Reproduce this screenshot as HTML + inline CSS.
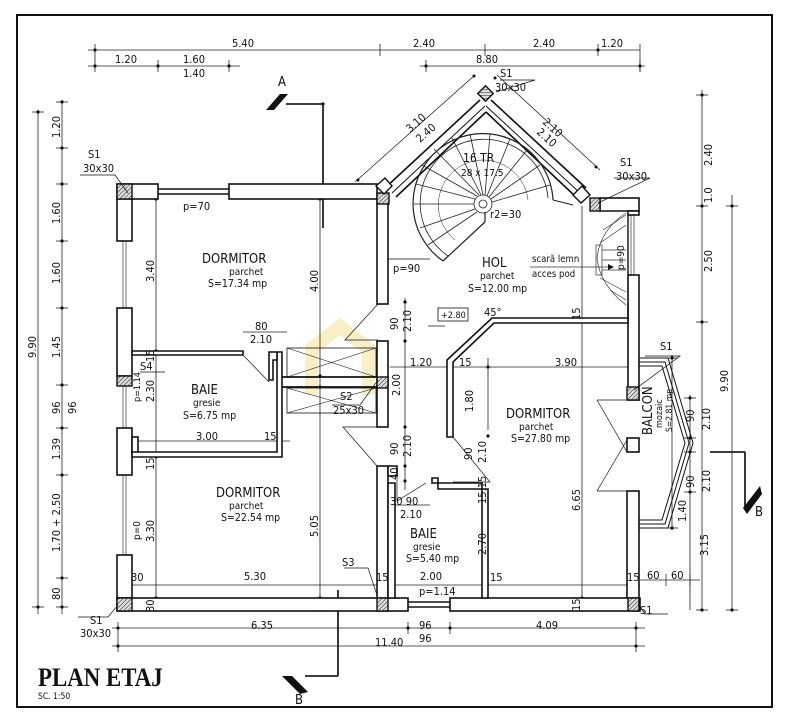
<!DOCTYPE html>
<html><head><meta charset="utf-8"><style>
html,body{margin:0;padding:0;background:#fff;}
svg{display:block;}
text{font-family:"DejaVu Sans Condensed","Liberation Sans",sans-serif;fill:#111;}
text.title{font-family:"Liberation Serif",serif;font-weight:bold;}
</style></head><body>
<svg width="789" height="720" viewBox="0 0 789 720" xmlns="http://www.w3.org/2000/svg">
<defs>
<pattern id="h" width="3" height="3" patternUnits="userSpaceOnUse" patternTransform="rotate(45)">
<rect width="3" height="3" fill="#ddd"/><line x1="0" y1="0" x2="0" y2="3" stroke="#222" stroke-width="1"/></pattern>
</defs>
<rect x="0" y="0" width="789" height="720" fill="#fff"/>
<rect x="17" y="15" width="755" height="692" fill="none" stroke="#111" stroke-width="2"/>

<path d="M305,395 V345 L340,318 L375,345 V395 H362 V352 L340,335 L318,352 V395 Z" fill="#f7e9b0" opacity="0.75"/>

<g stroke="#222" stroke-width="0.8" fill="none">
<line x1="88" y1="50" x2="640" y2="50"/>
<line x1="88" y1="66" x2="240" y2="66"/>
<line x1="420" y1="66" x2="645" y2="66"/>
<line x1="95" y1="44" x2="95" y2="72"/><line x1="158" y1="60" x2="158" y2="72"/><line x1="229" y1="60" x2="229" y2="72"/>
<line x1="380" y1="44" x2="380" y2="56"/><line x1="485" y1="44" x2="485" y2="56"/><line x1="598" y1="44" x2="598" y2="56"/><line x1="640" y1="44" x2="640" y2="72"/>
<line x1="426" y1="60" x2="426" y2="72"/><line x1="640" y1="60" x2="640" y2="72"/>
<line x1="38" y1="110" x2="38" y2="614"/>
<line x1="62" y1="100" x2="62" y2="614"/>
<g stroke-width="0.8">
<line x1="32" y1="112" x2="44" y2="112"/><line x1="32" y1="607" x2="44" y2="607"/>
<line x1="56" y1="102" x2="68" y2="102"/><line x1="56" y1="148" x2="68" y2="148"/><line x1="56" y1="184" x2="68" y2="184"/><line x1="56" y1="241" x2="68" y2="241"/><line x1="56" y1="308" x2="68" y2="308"/><line x1="56" y1="385" x2="68" y2="385"/><line x1="56" y1="428" x2="68" y2="428"/><line x1="56" y1="475" x2="68" y2="475"/><line x1="56" y1="578" x2="68" y2="578"/><line x1="56" y1="607" x2="68" y2="607"/>
</g>
<line x1="702" y1="90" x2="702" y2="610"/>
<line x1="732" y1="195" x2="732" y2="610"/>
<line x1="696" y1="95" x2="708" y2="95"/><line x1="696" y1="206" x2="708" y2="206"/><line x1="696" y1="322" x2="708" y2="322"/><line x1="696" y1="610" x2="708" y2="610"/>
<line x1="726" y1="206" x2="738" y2="206"/><line x1="726" y1="610" x2="738" y2="610"/>
<line x1="672" y1="355" x2="672" y2="530"/><line x1="666" y1="358" x2="678" y2="358"/><line x1="666" y1="528" x2="678" y2="528"/>
<line x1="690" y1="395" x2="690" y2="610"/><line x1="684" y1="398" x2="696" y2="398"/><line x1="684" y1="438" x2="696" y2="438"/><line x1="684" y1="452" x2="696" y2="452"/><line x1="684" y1="492" x2="696" y2="492"/>
<line x1="640" y1="580" x2="700" y2="580"/><line x1="666" y1="574" x2="666" y2="586"/><line x1="690" y1="574" x2="690" y2="586"/>
<line x1="112" y1="628" x2="645" y2="628"/>
<line x1="112" y1="646" x2="645" y2="646"/>
<line x1="118" y1="622" x2="118" y2="652"/><line x1="408" y1="622" x2="408" y2="634"/><line x1="450" y1="622" x2="450" y2="634"/><line x1="636" y1="622" x2="636" y2="652"/>
<line x1="156" y1="198" x2="156" y2="612"/>
<line x1="320" y1="198" x2="320" y2="612"/>
<line x1="582" y1="206" x2="582" y2="612"/>
<line x1="405" y1="298" x2="405" y2="490"/>
<line x1="488" y1="358" x2="488" y2="430"/>
<line x1="120" y1="585" x2="640" y2="585"/>
<line x1="390" y1="367" x2="628" y2="367"/>
<line x1="135" y1="441" x2="290" y2="441"/>
<line x1="243" y1="332" x2="287" y2="332"/>
<line x1="385" y1="505" x2="430" y2="505"/>
<line x1="286" y1="104" x2="323" y2="104" stroke-width="1.8"/>
<line x1="323" y1="104" x2="323" y2="228" stroke-width="1.8"/>
<line x1="710" y1="452" x2="745" y2="452" stroke-width="1.8"/>
<line x1="745" y1="452" x2="745" y2="508" stroke-width="1.8"/>
<line x1="338" y1="590" x2="338" y2="676" stroke-width="1.8"/>
<line x1="338" y1="676" x2="305" y2="676" stroke-width="1.8"/>
</g>
<polygon points="266,110 280,94 288,94 274,110" fill="#111"/>
<polygon points="743,508 760,486 762,494 747,514" fill="#111"/>
<polygon points="282,676 292,676 308,692 300,694" fill="#111"/>

<g fill="#111">
<circle cx="95" cy="50" r="1.6"/><circle cx="95" cy="66" r="1.6"/><circle cx="158" cy="66" r="1.6"/><circle cx="229" cy="66" r="1.6"/><circle cx="640" cy="66" r="1.6"/><circle cx="598" cy="50" r="1.6"/><circle cx="426" cy="66" r="1.6"/>
<circle cx="38" cy="112" r="1.6"/><circle cx="38" cy="607" r="1.6"/>
<circle cx="62" cy="102" r="1.6"/><circle cx="62" cy="148" r="1.6"/><circle cx="62" cy="184" r="1.6"/><circle cx="62" cy="241" r="1.6"/><circle cx="62" cy="308" r="1.6"/><circle cx="62" cy="385" r="1.6"/><circle cx="62" cy="428" r="1.6"/><circle cx="62" cy="475" r="1.6"/><circle cx="62" cy="578" r="1.6"/><circle cx="62" cy="607" r="1.6"/>
<circle cx="702" cy="95" r="1.6"/><circle cx="702" cy="206" r="1.6"/><circle cx="702" cy="322" r="1.6"/><circle cx="702" cy="610" r="1.6"/><circle cx="732" cy="206" r="1.6"/><circle cx="732" cy="610" r="1.6"/>
<circle cx="672" cy="358" r="1.6"/><circle cx="672" cy="528" r="1.6"/><circle cx="690" cy="398" r="1.6"/><circle cx="690" cy="438" r="1.6"/><circle cx="690" cy="452" r="1.6"/><circle cx="690" cy="492" r="1.6"/>
<circle cx="118" cy="628" r="1.6"/><circle cx="118" cy="646" r="1.6"/><circle cx="408" cy="628" r="1.6"/><circle cx="450" cy="628" r="1.6"/><circle cx="636" cy="628" r="1.6"/><circle cx="636" cy="646" r="1.6"/>
<circle cx="156" cy="199" r="1.6"/><circle cx="156" cy="351" r="1.6"/><circle cx="156" cy="457" r="1.6"/><circle cx="156" cy="598" r="1.6"/>
<circle cx="320" cy="199" r="1.6"/><circle cx="320" cy="376" r="1.6"/><circle cx="320" cy="387" r="1.6"/><circle cx="320" cy="598" r="1.6"/>
<circle cx="405" cy="302" r="1.6"/><circle cx="405" cy="341" r="1.6"/><circle cx="405" cy="427" r="1.6"/><circle cx="405" cy="466" r="1.6"/><circle cx="405" cy="481" r="1.6"/>
<circle cx="582" cy="320" r="1.6"/><circle cx="582" cy="598" r="1.6"/><circle cx="488" cy="367" r="1.6"/><circle cx="488" cy="436" r="1.6"/>
<circle cx="323" cy="104" r="1.6"/>
</g>

<g stroke="#111" stroke-width="1.6" fill="#fff">
<rect x="117" y="184" width="41" height="15"/>
<rect x="229" y="184" width="148" height="15"/>
<line x1="158" y1="189" x2="229" y2="189"/><line x1="158" y1="194" x2="229" y2="194"/>
<rect x="117" y="199" width="15" height="42"/>
<rect x="117" y="308" width="15" height="68"/>
<rect x="117" y="428" width="15" height="47"/>
<rect x="117" y="555" width="15" height="43"/>
<rect x="132" y="437" width="6" height="16"/>
<rect x="117" y="598" width="291" height="13"/>
<rect x="450" y="598" width="190" height="13"/>
<line x1="408" y1="602" x2="450" y2="602"/><line x1="408" y1="607" x2="450" y2="607"/>
<rect x="377" y="199" width="11" height="105"/>
<rect x="377" y="341" width="11" height="86"/>
<rect x="377" y="466" width="11" height="132"/>
<rect x="600" y="198" width="39" height="13"/>
<rect x="628" y="211" width="11" height="4"/>
<rect x="628" y="275" width="11" height="125"/>
<rect x="627" y="491" width="12" height="107"/>
<rect x="627" y="438" width="12" height="14"/>
<polygon points="132,351 243,351 243,355 132,355" />
<polygon points="277,352 282,352 282,457 132,457 132,452 277,452"/>
<polygon points="269,352 277,352 277,360 273,360 273,380 269,380"/>
<polygon points="492,318 628,318 628,323 494,323 453,362 453,437 447,437 447,360"/>
<polygon points="432,483 482,483 482,598 488,598 488,489 438,489 438,478 432,478"/>
<polygon points="388,483 395,483 395,598 388,598"/>
<polygon points="388,466 397,466 397,476 388,476"/>
</g>
<line x1="126" y1="241" x2="126" y2="308" stroke="#111" stroke-width="0.6"/><line x1="123" y1="241" x2="123" y2="308" stroke="#111" stroke-width="0.6"/>
<line x1="126" y1="386" x2="126" y2="428" stroke="#111" stroke-width="0.6"/><line x1="123" y1="386" x2="123" y2="428" stroke="#111" stroke-width="0.6"/>
<line x1="126" y1="475" x2="126" y2="555" stroke="#111" stroke-width="0.6"/><line x1="123" y1="475" x2="123" y2="555" stroke="#111" stroke-width="0.6"/>
<line x1="634" y1="215" x2="634" y2="275" stroke="#111" stroke-width="0.6"/><line x1="631" y1="215" x2="631" y2="275" stroke="#111" stroke-width="0.6"/>
<line x1="628" y1="215" x2="628" y2="275" stroke="#111" stroke-width="1.4"/>

<g stroke="#111" fill="none">
<rect x="287" y="348" width="89" height="29" stroke-width="0.8"/>
<rect x="287" y="388" width="89" height="25" stroke-width="0.8"/>
<line x1="282" y1="377" x2="377" y2="377" stroke-width="1.8"/>
<line x1="282" y1="387" x2="377" y2="387" stroke-width="1.8"/>
<line x1="287" y1="348" x2="376" y2="377" stroke-width="0.6"/><line x1="287" y1="377" x2="376" y2="348" stroke-width="0.6"/>
<line x1="287" y1="388" x2="376" y2="413" stroke-width="0.6"/><line x1="287" y1="413" x2="376" y2="388" stroke-width="0.6"/>
</g>

<g fill="url(#h)" stroke="#111" stroke-width="1.4">
<rect x="117" y="184" width="15" height="15"/>
<rect x="117" y="376" width="15" height="10"/>
<rect x="117" y="598" width="15" height="13"/>
<rect x="377" y="598" width="11" height="13"/>
<rect x="628" y="598" width="11" height="13"/>
<rect x="377" y="193" width="12" height="11"/>
<rect x="377" y="377" width="11" height="11"/>
<rect x="590" y="198" width="10" height="13"/>
<rect x="627" y="387" width="12" height="13"/>
<rect x="480" y="88" width="11" height="11" transform="rotate(45 485.5 93.5)"/>
</g>

<g stroke="#111" fill="none">
<line x1="385" y1="188" x2="480" y2="100" stroke-width="1.6"/>
<line x1="392" y1="193" x2="485" y2="106" stroke-width="1"/>
<line x1="396" y1="197" x2="486" y2="112" stroke-width="1.6"/>
<line x1="491" y1="100" x2="586" y2="188" stroke-width="1.6"/>
<line x1="486" y1="106" x2="580" y2="193" stroke-width="1"/>
<line x1="486" y1="112" x2="576" y2="197" stroke-width="1.6"/>
<polygon points="376,186 385,178 392,186 384,194" fill="#fff" stroke-width="1.4"/>
<polygon points="573,195 582,186 590,195 581,203" fill="#fff" stroke-width="1.4"/>
<line x1="355" y1="182" x2="475" y2="75" stroke-width="0.7"/>
<line x1="497" y1="75" x2="600" y2="170" stroke-width="0.7"/>
</g>
<g fill="#111"><circle cx="358" cy="180" r="1.5"/><circle cx="474" cy="76" r="1.5"/><circle cx="596" cy="167" r="1.5"/><circle cx="495" cy="78" r="1.5"/></g>

<g stroke="#222" fill="none" stroke-width="0.8">
<path d="M443,261 A70,70 0 1 1 553,200" stroke-width="1.2"/>
<path d="M448,256 A64,64 0 1 1 548,198"/>
<path d="M455,240 A45,45 0 1 1 528,200" stroke-width="0.5"/>
<line x1="443" y1="261" x2="485" y2="222" stroke-width="1.2"/>
<line x1="485" y1="222" x2="485" y2="212" stroke-width="1.2"/>
<line x1="553" y1="200" x2="573" y2="205" stroke-width="1"/>
<circle cx="483" cy="204" r="9"/><circle cx="483" cy="204" r="4"/>
<line x1="474" y1="204" x2="414" y2="204"/>
<line x1="475" y1="209" x2="420" y2="228"/>
<line x1="477" y1="212" x2="428" y2="245"/>
<line x1="475" y1="199" x2="416" y2="184"/>
<line x1="477" y1="196" x2="422" y2="165"/>
<line x1="479" y1="195" x2="434" y2="149"/>
<line x1="481" y1="195" x2="452" y2="138"/>
<line x1="483" y1="195" x2="470" y2="134"/>
<line x1="485" y1="195" x2="490" y2="134"/>
<line x1="487" y1="196" x2="510" y2="139"/>
<line x1="489" y1="197" x2="527" y2="150"/>
<line x1="491" y1="199" x2="540" y2="165"/>
<line x1="492" y1="202" x2="550" y2="185"/>
</g>

<g stroke="#333" fill="none" stroke-width="0.7">
<line x1="600" y1="211" x2="628" y2="211"/>
<path d="M626,213 Q600,230 597,258 Q600,285 626,305"/>
<rect x="596" y="245" width="6" height="30"/>
<line x1="602" y1="250" x2="626" y2="250"/><line x1="602" y1="260" x2="626" y2="260"/><line x1="602" y1="270" x2="626" y2="270"/>
<line x1="600" y1="243" x2="626" y2="225"/><line x1="603" y1="230" x2="626" y2="215"/>
<line x1="600" y1="278" x2="626" y2="292"/><line x1="610" y1="290" x2="626" y2="300"/>
<line x1="530" y1="267" x2="608" y2="267" stroke-width="0.8"/>
</g>
<polygon points="608,264 614,267 608,270" fill="#111"/>
<line x1="628" y1="304" x2="628" y2="318" stroke="#111" stroke-width="1.4"/>

<g stroke="#111" fill="none" stroke-width="1">
<polyline points="639,358 668,358 693,443 668,528 639,528"/>
<polyline points="639,362 665,362 689,443 665,524 639,524"/>
<polyline points="639,366 662,366 685,443 662,520 639,520"/>
<line x1="597" y1="400" x2="627" y2="452" stroke-width="0.7"/>
<line x1="597" y1="400" x2="627" y2="400" stroke-width="0.7"/>
<line x1="597" y1="491" x2="627" y2="440" stroke-width="0.7"/>
<line x1="597" y1="491" x2="627" y2="491" stroke-width="0.7"/>
</g>

<g stroke="#111" fill="none" stroke-width="0.7">
<line x1="243" y1="355" x2="269" y2="382"/>
<polyline points="378,304 345,340 378,340"/>
<polyline points="377,427 343,427 377,466"/>
<polyline points="453,437 490,482 453,482"/>
<polyline points="397,476 397,501 426,483"/>
<line x1="388" y1="259" x2="430" y2="259"/>
<polyline points="80,175 115,175 128,193" />
<polyline points="500,80 535,80 496,92"/>
<polyline points="614,178 650,178 598,203"/>
<polyline points="645,356 680,356 634,390"/>
<polyline points="140,372 165,372"/>
<polyline points="344,568 368,568 378,598"/>
<polyline points="78,617 108,617 118,605"/>
<polyline points="638,604 645,614 668,614"/>
<polyline points="332,405 360,405 378,380"/>
<line x1="428" y1="326" x2="445" y2="326"/>
</g>
<rect x="438" y="308" width="30" height="13" fill="#fff" stroke="#111" stroke-width="0.8"/>

<g font-size="11">
<text x="232" y="47">5.40</text><text x="413" y="47">2.40</text><text x="533" y="47">2.40</text><text x="601" y="47">1.20</text>
<text x="115" y="63">1.20</text><text x="183" y="63">1.60</text><text x="476" y="63">8.80</text><text x="183" y="77">1.40</text>
<text x="278" y="86" font-size="13">A</text>
<text x="755" y="516" font-size="13">B</text>
<text x="295" y="704" font-size="13">B</text>
<text x="500" y="77">S1</text><text x="495" y="91">30x30</text>
<text x="88" y="158">S1</text><text x="83" y="172">30x30</text>
<text x="620" y="166">S1</text><text x="616" y="180">30x30</text>
<text x="660" y="350">S1</text>
<text x="640" y="614">S1</text>
<text x="90" y="624">S1</text><text x="80" y="637">30x30</text>
<text x="140" y="370">S4</text>
<text x="340" y="400">S2</text><text x="333" y="414">25x30</text>
<text x="342" y="566">S3</text>
<text x="183" y="210">p=70</text>
<text x="393" y="272">p=90</text>
<text x="419" y="595">p=1.14</text>
<text x="463" y="162" font-size="12">16 TR</text><text x="461" y="176" font-size="10">28 x 17.5</text>
<text x="490" y="218">r2=30</text>
<text x="532" y="262" font-size="9.5">scară lemn</text><text x="532" y="277" font-size="9.5">acces pod</text>
<text x="441" y="318" font-size="9">+2.80</text>
<text x="484" y="316">45°</text>
<text x="202" y="263" font-size="13">DORMITOR</text><text x="229" y="275" font-size="10">parchet</text><text x="208" y="287" font-size="10.5">S=17.34 mp</text>
<text x="482" y="267" font-size="13">HOL</text><text x="480" y="279" font-size="10">parchet</text><text x="468" y="292" font-size="10.5">S=12.00 mp</text>
<text x="191" y="394" font-size="13">BAIE</text><text x="193" y="406" font-size="10">gresie</text><text x="183" y="419" font-size="10.5">S=6.75 mp</text>
<text x="506" y="418" font-size="13">DORMITOR</text><text x="519" y="430" font-size="10">parchet</text><text x="511" y="442" font-size="10.5">S=27.80 mp</text>
<text x="216" y="497" font-size="13">DORMITOR</text><text x="229" y="509" font-size="10">parchet</text><text x="221" y="521" font-size="10.5">S=22.54 mp</text>
<text x="410" y="538" font-size="13">BAIE</text><text x="413" y="550" font-size="10">gresie</text><text x="406" y="562" font-size="10.5">S=5.40 mp</text>
<text x="255" y="330">80</text><text x="250" y="343">2.10</text>
<text x="196" y="440">3.00</text><text x="264" y="440">15</text>
<text x="244" y="580">5.30</text><text x="420" y="580">2.00</text>
<text x="131" y="581">30</text><text x="376" y="581">15</text><text x="490" y="581">15</text><text x="627" y="581">15</text>
<text x="647" y="579">60</text><text x="671" y="579">60</text>
<text x="410" y="366">1.20</text><text x="459" y="366">15</text><text x="555" y="366">3.90</text>
<text x="390" y="505">30 90</text><text x="400" y="518">2.10</text>
<text x="251" y="629">6.35</text><text x="419" y="629">96</text><text x="419" y="642">96</text><text x="536" y="629">4.09</text><text x="375" y="646">11.40</text>
<text class="title" transform="translate(38,686) scale(0.88,1)" font-size="26">PLAN ETAJ</text>
<text x="38" y="699" font-size="8.5">SC. 1:50</text>
</g>
<g font-size="11">
<text transform="translate(36,358) rotate(-90)">9.90</text>
<text transform="translate(60,138) rotate(-90)">1.20</text>
<text transform="translate(60,224) rotate(-90)">1.60</text>
<text transform="translate(60,284) rotate(-90)">1.60</text>
<text transform="translate(60,358) rotate(-90)">1.45</text>
<text transform="translate(60,414) rotate(-90)">96</text>
<text transform="translate(76,414) rotate(-90)">96</text>
<text transform="translate(60,460) rotate(-90)">1.39</text>
<text transform="translate(60,552) rotate(-90)">1.70 + 2.50</text>
<text transform="translate(60,600) rotate(-90)">80</text>
<text transform="translate(154,282) rotate(-90)">3.40</text>
<text transform="translate(154,362) rotate(-90)">15</text>
<text transform="translate(154,402) rotate(-90)">2.30</text>
<text transform="translate(140,402) rotate(-90)" font-size="9">p=1.14</text>
<text transform="translate(154,470) rotate(-90)">15</text>
<text transform="translate(154,542) rotate(-90)">3.30</text>
<text transform="translate(140,540) rotate(-90)" font-size="10">p=0</text>
<text transform="translate(154,612) rotate(-90)">30</text>
<text transform="translate(318,292) rotate(-90)">4.00</text>
<text transform="translate(318,537) rotate(-90)">5.05</text>
<text transform="translate(398,330) rotate(-90)">90</text>
<text transform="translate(411,332) rotate(-90)">2.10</text>
<text transform="translate(400,396) rotate(-90)">2.00</text>
<text transform="translate(398,455) rotate(-90)">90</text>
<text transform="translate(411,457) rotate(-90)">2.10</text>
<text transform="translate(398,480) rotate(-90)">40</text>
<text transform="translate(473,412) rotate(-90)">1.80</text>
<text transform="translate(472,460) rotate(-90)">90</text>
<text transform="translate(486,463) rotate(-90)">2.10</text>
<text transform="translate(486,504) rotate(-90)">15.15</text>
<text transform="translate(486,555) rotate(-90)">2.70</text>
<text transform="translate(580,320) rotate(-90)">15</text>
<text transform="translate(580,511) rotate(-90)">6.65</text>
<text transform="translate(580,611) rotate(-90)">15</text>
<text transform="translate(624,270) rotate(-90)" font-size="10">p=90</text>
<text transform="translate(712,166) rotate(-90)">2.40</text>
<text transform="translate(712,203) rotate(-90)">1.0</text>
<text transform="translate(712,272) rotate(-90)">2.50</text>
<text transform="translate(728,392) rotate(-90)">9.90</text>
<text transform="translate(694,422) rotate(-90)">90</text>
<text transform="translate(710,430) rotate(-90)">2.10</text>
<text transform="translate(694,488) rotate(-90)">90</text>
<text transform="translate(710,492) rotate(-90)">2.10</text>
<text transform="translate(686,522) rotate(-90)">1.40</text>
<text transform="translate(708,556) rotate(-90)">3.15</text>
<text transform="translate(652,435) rotate(-90)" font-size="13">BALCON</text>
<text transform="translate(662,428) rotate(-90)" font-size="9">mozaic</text>
<text transform="translate(672,432) rotate(-90)" font-size="8.5">S=2.81 mp</text>
<text transform="translate(410,133) rotate(-41)">3.10</text>
<text transform="translate(420,143) rotate(-41)">2.40</text>
<text transform="translate(542,123) rotate(42)">2.10</text>
<text transform="translate(536,133) rotate(42)">2.10</text>
</g>
</svg>
</body></html>
